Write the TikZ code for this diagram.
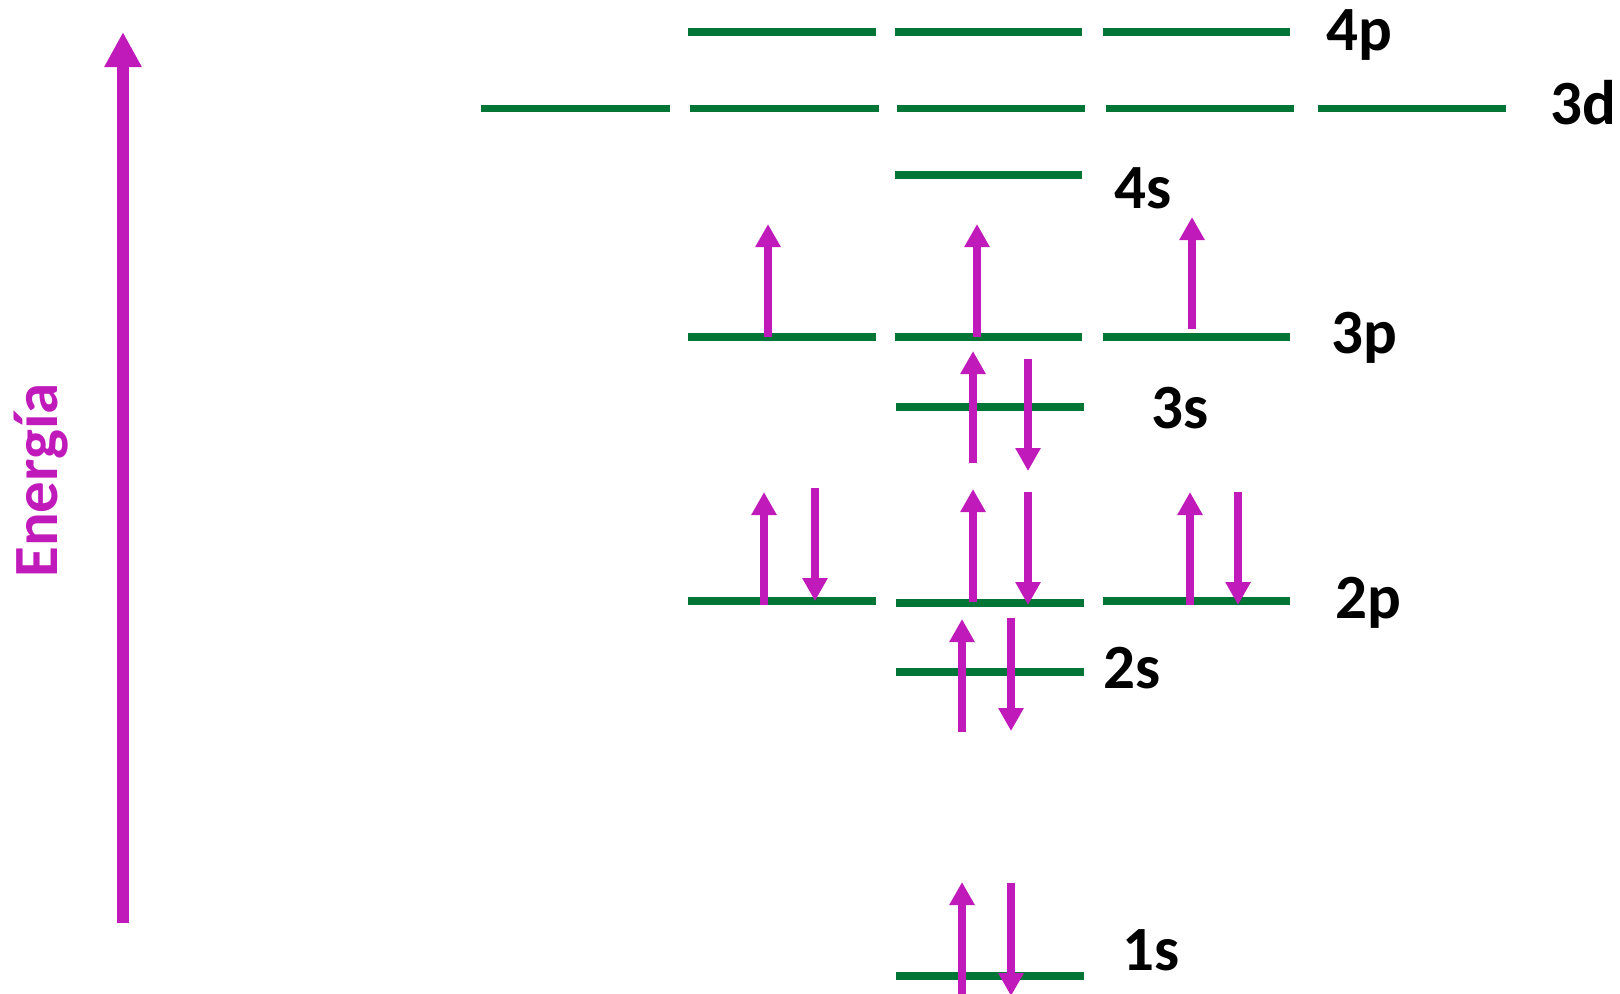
\documentclass[tikz,border=0pt]{standalone}
\usepackage{fontspec}
\setmainfont{Carlito}
\usetikzlibrary{arrows.meta}
\definecolor{levelgreen}{RGB}{0,117,54}
\definecolor{spinmag}{RGB}{192,26,186}
\begin{document}
\begin{tikzpicture}[x=0.5pt, y=-0.5pt,
  level/.style={draw=levelgreen, line width=3.75pt, line cap=butt},
  spin/.style={draw=spinmag, line width=3.9pt,
    -{Triangle[width=12pt, length=11.5pt]}},
  axisarrow/.style={draw=spinmag, line width=6pt,
    -{Triangle[width=17.5pt, length=17.5pt]}},
  lbl/.style={inner sep=0pt, anchor=base west, text=black,
    font=\fontsize{31.5}{36}\selectfont\bfseries}]
\useasboundingbox (0,0) rectangle (1620,993);

% energy axis
\coordinate (axbot) at (123,923);
\coordinate (axtop) at (123,32);
\draw[axisarrow] (axbot) -- (axtop);
\node[inner sep=0pt, rotate=90, anchor=base west, text=spinmag,
  font=\fontsize{31.5}{36}\selectfont\bfseries] (energia) at (57,578) {Energía};

% orbital levels
\foreach \a/\b in {688/876, 895/1082, 1103/1290}
  \draw[level] (\a,32) -- (\b,32);
\foreach \a/\b in {481/670, 690/879, 897/1085, 1106/1294, 1318/1506}
  \draw[level] (\a,108.5) -- (\b,108.5);
\draw[level] (895,175) -- (1082,175);
\foreach \a/\b in {688/876, 895/1082, 1103/1290}
  \draw[level] (\a,337) -- (\b,337);
\draw[level] (896,407) -- (1084,407);
\draw[level] (688,601) -- (876,601);
\draw[level] (896,603) -- (1084,603);
\draw[level] (1103,601) -- (1290,601);
\draw[level] (896,672) -- (1084,672);
\draw[level] (896,976) -- (1084,976);

% level labels
\node[lbl] (l4p) at (1326,50) {4p};
\node[lbl] (l3d) at (1550,124) {3d};
\node[lbl] (l4s) at (1114,208) {4s};
\node[lbl] (l3p) at (1331,353) {3p};
\node[lbl] (l3s) at (1151,428) {3s};
\node[lbl] (l2p) at (1335,618) {2p};
\node[lbl] (l2s) at (1103,688) {2s};
\node[lbl] (l1s) at (1122,970) {1s};

% electrons: 3p
\draw[spin] (768,337) -- (768,224);
\draw[spin] (977,337) -- (977,224);
\draw[spin] (1192,329) -- (1192,217);
% 3s
\draw[spin] (973,463) -- (973,351);
\draw[spin] (1028,359) -- (1028,471);
% 2p
\draw[spin] (764,605) -- (764,492);
\draw[spin] (815,488) -- (815,601);
\draw[spin] (973,602) -- (973,489);
\draw[spin] (1028,492) -- (1028,605);
\draw[spin] (1190,605) -- (1190,492);
\draw[spin] (1238,492) -- (1238,605);
% 2s
\draw[spin] (962,732) -- (962,619);
\draw[spin] (1011,618) -- (1011,731);
% 1s
\draw[spin] (962,1000) -- (962,882);
\draw[spin] (1011,883) -- (1011,996);
\end{tikzpicture}
\end{document}
